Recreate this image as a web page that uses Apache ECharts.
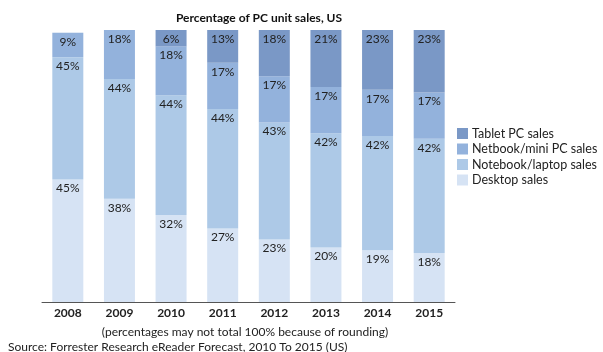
<!DOCTYPE html>
<html>
<head>
<meta charset="utf-8">
<script src="https://cdn.jsdelivr.net/npm/echarts@6/dist/echarts.min.js"></script>
<style>
  html, body { margin: 0; padding: 0; background: #fff; }
  #chart { width: 603px; height: 352px; }
</style>
</head>
<body>
<div id="chart"></div>
<script>
const years = ['2008', '2009', '2010', '2011', '2012', '2013', '2014', '2015']
const desktop = [45, 38, 32, 27, 23, 20, 19, 18]
const notebook = [45, 44, 44, 44, 43, 42, 42, 42]
const netbook = [9, 18, 18, 17, 17, 17, 17, 17]
const tablet = [null, null, 6, 13, 18, 21, 23, 23]

const font = 'Lato'
const chart = echarts.init(document.getElementById('chart'))

const makeSeries = (name, data, color) => ({
  name,
  type: 'bar',
  stack: 'pc',
  data,
  barWidth: 31,
  itemStyle: { color },
  label: {
    show: true,
    position: 'insideTop',
    distance: 3,
    formatter: (p) => (p.value == null ? '' : p.value + '%'),
    color: '#222',
    fontFamily: font,
    fontSize: 12
  }
})

chart.setOption({
  animation: false,
  textStyle: { fontFamily: font },
  title: [{
    text: 'Percentage of PC unit sales, US',
    left: 254,
    textAlign: 'center',
    top: 7,
    textStyle: { fontFamily: font, fontSize: 12, fontWeight: 'bold', color: '#111' }
  }, {
    text: '(percentages may not total 100% because of rounding)',
    left: 240,
    textAlign: 'center',
    top: 321,
    textStyle: { fontFamily: font, fontSize: 12, fontWeight: 'normal', color: '#222' }
  }, {
    text: 'Source: Forrester Research eReader Forecast, 2010 To 2015 (US)',
    left: 3,
    top: 336,
    textStyle: { fontFamily: font, fontSize: 12, fontWeight: 'normal', color: '#222' }
  }],
  legend: {
    data: ['Tablet PC sales', 'Netbook/mini PC sales', 'Notebook/laptop sales', 'Desktop sales'],
    orient: 'vertical',
    left: 452,
    top: 122,
    itemWidth: 11,
    itemHeight: 11,
    itemGap: 2.5,
    icon: 'rect',
    textStyle: { fontFamily: font, fontSize: 12.5, color: '#222', padding: [0, 0, 0, -1] }
  },
  grid: {
    top: 30,
    bottom: 50,
    left: 42,
    right: 148
  },
  xAxis: {
    type: 'category',
    data: years,
    axisLine: { lineStyle: { color: '#555', width: 1 } },
    axisTick: { show: false },
    axisLabel: { color: '#222', fontFamily: font, fontSize: 12, fontWeight: 'bold', margin: 5 }
  },
  yAxis: {
    type: 'value',
    min: 0,
    max: 100,
    show: false
  },
  series: [
    makeSeries('Desktop sales', desktop, '#d6e3f4'),
    makeSeries('Notebook/laptop sales', notebook, '#adc9e7'),
    makeSeries('Netbook/mini PC sales', netbook, '#93b2dc'),
    makeSeries('Tablet PC sales', tablet, '#7a98c6')
  ]
})
</script>
</body>
</html>
